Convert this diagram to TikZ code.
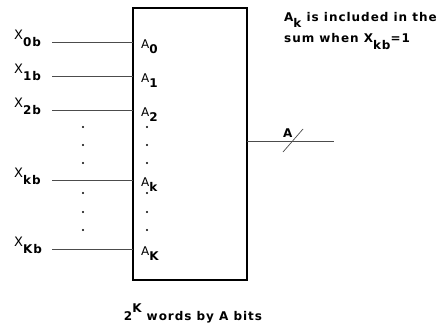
\documentclass[tikz,border=0pt]{standalone}
\usepackage{fontspec}
\setmainfont{DejaVu Sans}[LetterSpace=8]
\newcommand{\sbx}[2][5.5pt]{\raisebox{-#1}{\bfseries #2}}
\newcommand{\spx}[1]{\raisebox{8pt}{#1}}
\begin{document}
\begin{tikzpicture}[x=1pt,y=-1pt,
  lbl/.style={inner sep=0pt,font=\fontsize{12}{14}\selectfont},
  bl/.style={inner sep=0pt,font=\fontsize{12}{14}\selectfont\bfseries},
  wire/.style={draw=black!70,line width=0.8pt},
  dotm/.style={circle,fill=black,inner sep=0pt,minimum size=2.4pt}]
\useasboundingbox (0,0) rectangle (438,327);
\draw[line width=1.6pt] (133,8) rectangle (247,280);
% input wires
\foreach \n/\y/\s/\a in {0/42/0b/0, 1/76/1b/1, 2/110/2b/2, k/180/kb/k, K/249/Kb/K}{
  \coordinate (in\n) at (52,\y);
  \coordinate (pin\n) at (133,\y);
  \draw[wire] (in\n) -- (pin\n);
  \node[lbl,anchor=base west] (x\n) at (14,\y-3) {\fontsize{13}{15}\selectfont X\sbx[7.5pt]{\fontsize{12}{14}\selectfont\s}};
  \node[lbl,anchor=base west] (a\n) at (141,\y+6) {A\sbx[5pt]{\a}};
}
\foreach \y [count=\i] in {127,145,163,193,212,230}{
  \node[dotm] (dl\i) at (83,\y) {};
  \node[dotm] (dr\i) at (147,\y) {};
}
% output
\coordinate (out0) at (247,141);
\coordinate (out1) at (334,141);
\draw[wire] (out0) -- (out1);
\coordinate (sl0) at (283,152);
\coordinate (sl1) at (303,129);
\draw[wire,line width=0.7pt] (sl0) -- (sl1);
\node[bl,anchor=base west] (aout) at (283,137) {A};
% notes
\node[bl,anchor=base west] (note1) at (284,21) {A\sbx[6pt]{k} is included in the};
\node[bl,anchor=base west] (note2) at (284,42) {sum when X\sbx[7pt]{kb}=1};
\node[bl,anchor=base] (cap) at (193,320) {2\spx{K} words by A bits};
\end{tikzpicture}
\end{document}
